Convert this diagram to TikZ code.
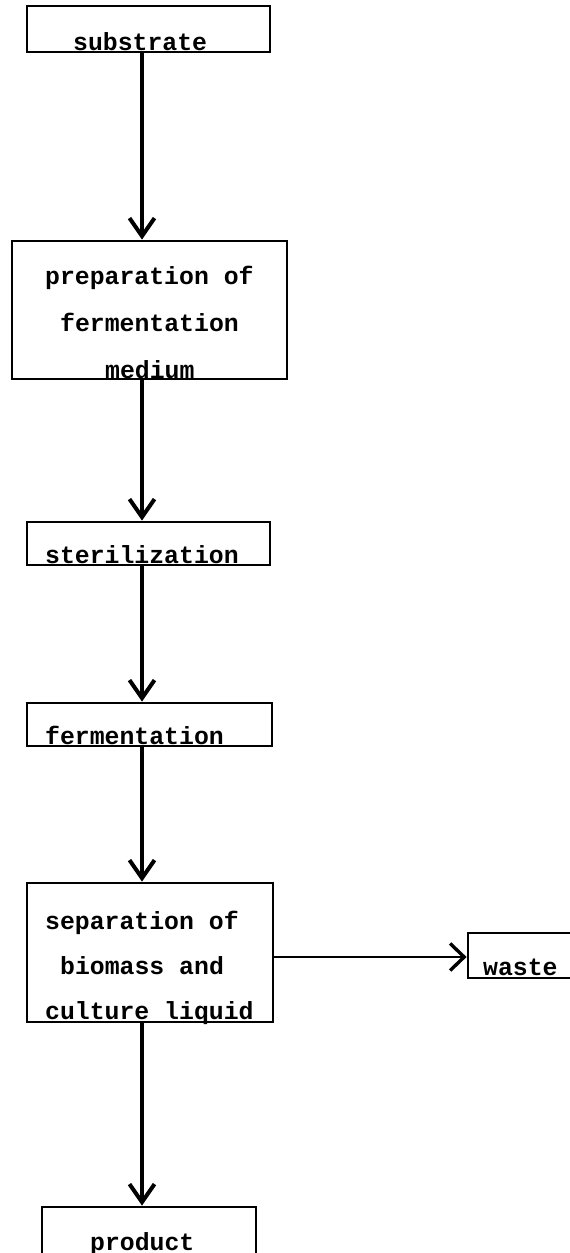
\documentclass[tikz,border=0pt]{standalone}
\usepackage{fontspec}
\setmonofont{Liberation Mono}
\usetikzlibrary{arrows.meta}
\tikzset{
  boxstyle/.style={draw, line width=2.8pt, rectangle, inner sep=0pt},
  txt/.style={anchor=base west, inner sep=0pt, font=\ttfamily\bfseries\fontsize{24.8}{30}\selectfont},
  varrow/.style={line width=4.5pt, -{Straight Barb[length=18pt,width=25pt,line width=4pt]}},
  harrow/.style={line width=2.8pt, -{Straight Barb[length=14pt,width=27pt,line width=3.4pt]}}
}
\begin{document}
\begin{tikzpicture}[x=1pt,y=-1pt]
\useasboundingbox (0,0) rectangle (570,1253);
\coordinate (axis) at (142,0);
\coordinate (wy) at (0,957);
% boxes
\node[boxstyle, minimum width=243pt, minimum height=46pt] (sub) at (148.5,29) {};
\node[boxstyle, minimum width=275pt, minimum height=138pt] (prep) at (149.5,310) {};
\node[boxstyle, minimum width=243pt, minimum height=43pt] (ster) at (148.5,543.5) {};
\node[boxstyle, minimum width=245pt, minimum height=43pt] (ferm) at (149.5,724.5) {};
\node[boxstyle, minimum width=246pt, minimum height=139pt] (sep) at (150,952.5) {};
\node[boxstyle, minimum width=120pt, minimum height=45pt] (waste) at (528,955.5) {};
\node[boxstyle, minimum width=214pt, minimum height=60pt] (prod) at (149,1237) {};
% texts
\node[txt] (t1) at (73,50) {substrate};
\node[txt] (t2) at (45,284) {preparation of};
\node[txt] (t3) at (60,331) {fermentation};
\node[txt] (t4) at (105,378) {medium};
\node[txt] (t5) at (45,563) {sterilization};
\node[txt] (t6) at (45,744) {fermentation};
\node[txt] (t7) at (45,929) {separation of};
\node[txt] (t8) at (60,974) {biomass and};
\node[txt] (t9) at (45,1019) {culture liquid};
\node[txt] (t10) at (483,975) {waste};
\node[txt] (t11) at (90,1250) {product};
% connectors
\draw[varrow] (sub.south -| axis) -- (prep.north -| axis);
\draw[varrow] (prep.south -| axis) -- (ster.north -| axis);
\draw[varrow] (ster.south -| axis) -- (ferm.north -| axis);
\draw[varrow] (ferm.south -| axis) -- (sep.north -| axis);
\draw[varrow] (sep.south -| axis) -- (prod.north -| axis);
\draw[harrow] (sep.east |- wy) -- (waste.west |- wy);
\end{tikzpicture}
\end{document}
